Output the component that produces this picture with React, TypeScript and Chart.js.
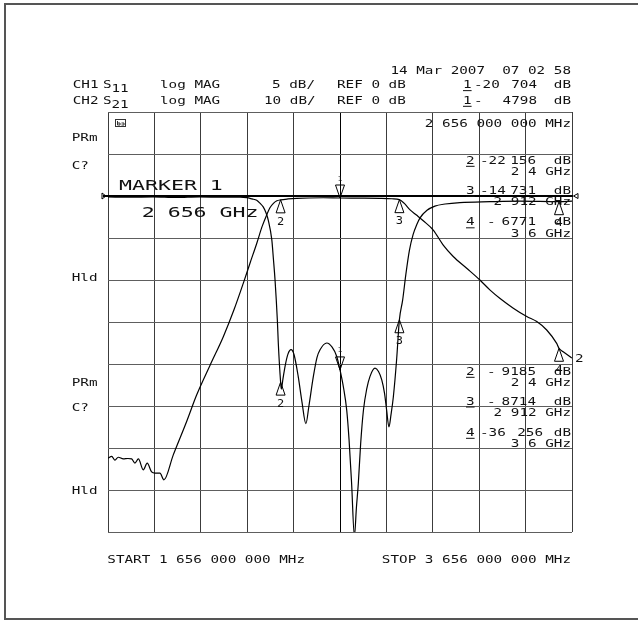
import React, { useEffect, useRef } from 'react';
import { Chart, registerables } from 'chart.js';

Chart.register(...registerables);

// ---- axes (GHz / dB) ----
const xTicks = [1.656, 1.856, 2.056, 2.256, 2.456, 2.656, 2.856, 3.056, 3.256, 3.456, 3.656];
const s11Ticks = [-40, -35, -30, -25, -20, -15, -10, -5, 0, 5, 10];
const s21Ticks = [-80, -70, -60, -50, -40, -30, -20, -10, 0, 10, 20];

// ---- CH1 S11 (log MAG, 5 dB/div) ----
const s11Freq = [
  1.656, 1.75, 1.85, 1.95, 2.05, 2.15, 2.225, 2.254, 2.277, 2.297, 2.311, 2.325, 2.337, 2.347,
  2.362, 2.369, 2.376, 2.386, 2.39, 2.4, 2.403, 2.41, 2.419, 2.432, 2.445, 2.458, 2.476, 2.492,
  2.509, 2.522, 2.541, 2.557, 2.57, 2.599, 2.622, 2.642, 2.656, 2.671, 2.685, 2.695, 2.706, 2.718,
  2.727, 2.735, 2.745, 2.757, 2.771, 2.785, 2.807, 2.822, 2.836, 2.848, 2.857, 2.867, 2.876, 2.886,
  2.9, 2.912, 2.926, 2.94, 2.955, 2.971, 2.987, 3.001, 3.031, 3.065, 3.109, 3.173, 3.303, 3.432,
  3.6, 3.656,
];
const s11Db = [
  -0.12, -0.15, -0.1, -0.18, -0.1, -0.15, -0.15, -0.2, -0.35, -0.5, -0.85, -1.3, -2.0, -2.9,
  -5.2, -7.5, -10, -14.8, -17.5, -22.156, -23.0, -21.8, -20.3, -18.8, -18.3, -18.9, -21.5, -24.5,
  -27.1, -25.0, -21.5, -19.2, -18.3, -17.5, -18.0, -19.1, -20.704, -22.8, -25.5, -29, -34.2, -40.5,
  -37, -34.2, -29.5, -25.5, -23.0, -21.5, -20.5, -20.9, -21.9, -23.5, -25.5, -27.5, -26.0, -23.9,
  -19.5, -14.731, -12.4, -9.3, -6.5, -4.6, -3.4, -2.6, -1.7, -1.2, -0.95, -0.78, -0.68, -0.62,
  -0.6771, -0.6,
];

// ---- CH2 S21 (log MAG, 10 dB/div) ----
const s21Freq = [
  1.656, 1.672, 1.686, 1.7, 1.722, 1.742, 1.758, 1.772, 1.787, 1.808, 1.825, 1.844, 1.859, 1.88,
  1.897, 1.937, 1.995, 2.038, 2.096, 2.153, 2.199, 2.239, 2.268, 2.297, 2.32, 2.34, 2.354, 2.369,
  2.384, 2.4, 2.432, 2.469, 2.584, 2.656, 2.742, 2.828, 2.88, 2.912, 2.932, 2.958, 2.987, 3.015,
  3.058, 3.101, 3.144, 3.202, 3.259, 3.303, 3.346, 3.403, 3.461, 3.504, 3.547, 3.59, 3.6, 3.618,
  3.656,
];
const s21Db = [
  -62.4, -62.0, -62.9, -62.2, -62.6, -62.5, -62.6, -63.6, -62.6, -65.2, -63.6, -65.7, -66.0, -66.0,
  -67.6, -61.7, -53.7, -47.4, -40.3, -33.5, -27.1, -20.8, -16.0, -11.3, -7.3, -4.5, -2.8, -1.74,
  -1.15, -0.9185, -0.7, -0.55, -0.42, -0.4798, -0.5, -0.55, -0.65, -0.8714, -1.7, -3.3, -4.6, -5.9,
  -8.1, -11.7, -14.4, -17.2, -20.0, -22.4, -24.4, -26.7, -28.7, -29.9, -31.9, -35.1, -36.256, -37.1,
  -38.6,
];

// ---- markers ----
const markerIds = ['1', '2', '3', '4'];
const markerFreq = [2.656, 2.4, 2.912, 3.6];
const markerS11 = [-20.704, -22.156, -14.731, -0.6771];
const markerS21 = [-0.4798, -0.9185, -0.8714, -36.256];

// ---- annotation text ----
const dateText = '14 Mar 2007  07 02 58';
const ch1Text = ['CH1', 'S', '11', 'log MAG', '5 dB/', 'REF 0 dB'];
const ch2Text = ['CH2', 'S', '21', 'log MAG', '10 dB/', 'REF 0 dB'];
const ch1Readout = ['-20', '704'];
const ch2Readout = ['-', '4798'];
const stimText = '2 656 000 000 MHz';
const upperReadout = [
  ['2', '-22', '156', '2 4 GHz'],
  ['3', '-14', '731', '2 912 GHz'],
  ['4', '-', '6771', '3 6 GHz'],
];
const lowerReadout = [
  ['2', '-', '9185', '2 4 GHz'],
  ['3', '-', '8714', '2 912 GHz'],
  ['4', '-36', '256', '3 6 GHz'],
];
const sideLabels = ['PRm', 'C?', 'Hld', 'PRm', 'C?', 'Hld'];
const markerTitle = ['MARKER 1', '2 656 GHz'];
const startText = 'START 1 656 000 000 MHz';
const stopText = 'STOP 3 656 000 000 MHz';

const FONT = '"DejaVu Sans Mono", "Liberation Mono", monospace';
const INK = '#111';

function txt(
  ctx: CanvasRenderingContext2D,
  s: string,
  x: number,
  yc: number,
  size: number,
  sx: number,
  align: 'left' | 'right' | 'center' = 'left',
  underline = false
) {
  ctx.save();
  ctx.font = `${size}px ${FONT}`;
  ctx.textAlign = 'left';
  ctx.textBaseline = 'alphabetic';
  const w = ctx.measureText(s).width * sx;
  const x0 = align === 'right' ? x - w : align === 'center' ? x - w / 2 : x;
  const base = yc + 0.3645 * size;
  ctx.fillStyle = INK;
  ctx.translate(x0, base);
  ctx.scale(sx, 1);
  ctx.fillText(s, 0, 0);
  ctx.restore();
  if (underline) {
    ctx.save();
    ctx.strokeStyle = INK;
    ctx.lineWidth = 1;
    ctx.beginPath();
    ctx.moveTo(x0, base + 2.5);
    ctx.lineTo(x0 + w, base + 2.5);
    ctx.stroke();
    ctx.restore();
  }
}

const S = 10.5; // small font size
const SX = 1.36;

const overlay = {
  id: 'overlay',
  beforeDraw(chart: any) {
    const ctx = chart.ctx as CanvasRenderingContext2D;
    ctx.save();
    ctx.strokeStyle = '#555';
    ctx.lineWidth = 2;
    ctx.beginPath();
    ctx.moveTo(640, 4);
    ctx.lineTo(5, 4);
    ctx.lineTo(5, 619);
    ctx.lineTo(640, 619);
    ctx.stroke();
    ctx.restore();
  },
  afterDatasetsDraw(chart: any) {
    const ctx = chart.ctx as CanvasRenderingContext2D;
    const xs = chart.scales.x;
    const ys = chart.scales.y;
    const y2 = chart.scales.y2;
    const area = chart.chartArea;

    // reference line (0 dB for both channels)
    const yRef = ys.getPixelForValue(0);
    ctx.save();
    ctx.strokeStyle = '#000';
    ctx.lineWidth = 2;
    ctx.beginPath();
    ctx.moveTo(area.left - 5, yRef);
    ctx.lineTo(area.right + 1, yRef);
    ctx.stroke();
    ctx.lineWidth = 1;
    ctx.beginPath();
    ctx.moveTo(area.left - 6, yRef - 3);
    ctx.lineTo(area.left - 2, yRef);
    ctx.lineTo(area.left - 6, yRef + 3);
    ctx.closePath();
    ctx.stroke();
    ctx.beginPath();
    ctx.moveTo(area.right + 6, yRef - 2.5);
    ctx.lineTo(area.right + 1.5, yRef);
    ctx.lineTo(area.right + 6, yRef + 2.5);
    ctx.closePath();
    ctx.stroke();
    ctx.restore();

    // markers
    const drawMarker = (id: string, px: number, py: number) => {
      ctx.save();
      ctx.strokeStyle = '#000';
      ctx.lineWidth = 1;
      ctx.beginPath();
      if (id === '1') {
        ctx.moveTo(px, py);
        ctx.lineTo(px - 4.5, py - 13);
        ctx.lineTo(px + 4.5, py - 13);
        ctx.closePath();
        ctx.stroke();
        ctx.restore();
        txt(ctx, id, px, py - 20, 7, 1.2, 'center');
      } else {
        ctx.moveTo(px, py);
        ctx.lineTo(px - 4.5, py + 13);
        ctx.lineTo(px + 4.5, py + 13);
        ctx.closePath();
        ctx.stroke();
        ctx.restore();
        txt(ctx, id, px, py + 21, 10, 1.2, 'center');
      }
    };
    markerIds.forEach((id, i) => {
      const px = xs.getPixelForValue(markerFreq[i]);
      drawMarker(id, px, ys.getPixelForValue(markerS11[i]));
      drawMarker(id, px, y2.getPixelForValue(markerS21[i]));
    });

    // channel 2 trace end label
    const lastF = s21Freq[s21Freq.length - 1];
    const lastV = s21Db[s21Db.length - 1];
    txt(ctx, '2', xs.getPixelForValue(lastF) + 3, y2.getPixelForValue(lastV), S, SX);

    // small annotation box glyph
    ctx.save();
    ctx.strokeStyle = '#333';
    ctx.lineWidth = 1;
    ctx.strokeRect(area.left + 7.5, area.top + 7.5, 10, 7);
    ctx.beginPath();
    ctx.moveTo(area.left + 9.5, area.top + 9);
    ctx.lineTo(area.left + 9.5, area.top + 13);
    ctx.lineTo(area.left + 12, area.top + 13);
    ctx.lineTo(area.left + 12, area.top + 11);
    ctx.lineTo(area.left + 9.5, area.top + 11);
    ctx.moveTo(area.left + 13.5, area.top + 11);
    ctx.lineTo(area.left + 16, area.top + 11);
    ctx.lineTo(area.left + 16, area.top + 13);
    ctx.lineTo(area.left + 13.5, area.top + 13);
    ctx.stroke();
    ctx.restore();
  },
  afterDraw(chart: any) {
    const ctx = chart.ctx as CanvasRenderingContext2D;
    // header
    txt(ctx, dateText, 571, 70.5, S, SX, 'right');
    const rows: [string[], string[], number][] = [
      [ch1Text, ch1Readout, 84.3],
      [ch2Text, ch2Readout, 100],
    ];
    rows.forEach(([t, r, yc], i) => {
      txt(ctx, t[0], 72.7, yc, S, SX);
      txt(ctx, t[1], 103, yc, S, SX);
      txt(ctx, t[2], 111.5, yc + 4, S, SX);
      txt(ctx, t[3], 160, yc, S, SX);
      txt(ctx, t[4], i === 0 ? 272 : 264, yc, S, SX);
      txt(ctx, t[5], 337, yc, S, SX);
      txt(ctx, '1', 463, yc, S, SX, 'left', true);
      txt(ctx, r[0], 474, yc, S, SX);
      txt(ctx, r[1], 537, yc, S, SX, 'right');
      txt(ctx, 'dB', 571, yc, S, SX, 'right');
    });

    // marker readouts
    txt(ctx, stimText, 571, 123, S, SX, 'right');
    const drawGroup = (g: string[][], ys: number[]) => {
      g.forEach((r, i) => {
        const yc = ys[i];
        txt(ctx, r[0], 466, yc, S, SX, 'left', true);
        txt(ctx, r[1], r[1] === '-' ? 487 : 480, yc, S, SX);
        txt(ctx, r[2], r[1] === '-36' ? 543 : 536, yc, S, SX, 'right');
        txt(ctx, 'dB', 571, yc, S, SX, 'right');
        txt(ctx, r[3], 571, yc + 11.3, S, SX, 'right');
      });
    };
    drawGroup(upperReadout, [160, 190, 221.5]);
    drawGroup(lowerReadout, [371, 400.7, 432]);

    // side softkey labels
    const sideY = [137, 165, 277, 382, 407, 490];
    sideLabels.forEach((s, i) => txt(ctx, s, 71.7, sideY[i], S, SX));

    // marker title
    txt(ctx, markerTitle[0], 119, 185, 14, 1.54);
    txt(ctx, markerTitle[1], 141.7, 212, 14, 1.54);

    // stimulus
    txt(ctx, startText, 107.3, 559, S, SX);
    txt(ctx, stopText, 571, 559, S, SX, 'right');
  },
};

export default function App() {
  const ref = useRef<HTMLCanvasElement>(null);
  useEffect(() => {
    const chart = new Chart(ref.current as HTMLCanvasElement, {
      type: 'line',
      data: {
        datasets: [
          {
            label: 'S11',
            data: s11Freq.map((f, i) => ({ x: f, y: s11Db[i] })),
            yAxisID: 'y',
            borderColor: '#000',
            borderWidth: 1.2,
            pointRadius: 0,
            fill: false,
            cubicInterpolationMode: 'monotone',
          },
          {
            label: 'S21',
            data: s21Freq.map((f, i) => ({ x: f, y: s21Db[i] })),
            yAxisID: 'y2',
            borderColor: '#000',
            borderWidth: 1.2,
            pointRadius: 0,
            fill: false,
            cubicInterpolationMode: 'monotone',
          },
        ],
      },
      options: {
        animation: false,
        responsive: false,
        maintainAspectRatio: false,
        events: [],
        layout: { padding: { left: 108, top: 112, right: 66, bottom: 90 } },
        plugins: { legend: { display: false }, tooltip: { enabled: false }, title: { display: false } },
        scales: {
          x: {
            type: 'linear',
            min: xTicks[0],
            max: xTicks[xTicks.length - 1],
            afterBuildTicks: (a: any) => {
              a.ticks = xTicks.map((v) => ({ value: v }));
            },
            afterFit: (s: any) => {
              s.height = 0;
            },
            ticks: { display: false },
            grid: {
              drawTicks: false,
              color: (c: any) => (c.index === 5 ? '#000' : '#3c3c3c'),
              lineWidth: 1,
            },
            border: { display: false },
          },
          y: {
            type: 'linear',
            position: 'left',
            min: s11Ticks[0],
            max: s11Ticks[s11Ticks.length - 1],
            afterBuildTicks: (a: any) => {
              a.ticks = s11Ticks.map((v) => ({ value: v }));
            },
            afterFit: (s: any) => {
              s.width = 0;
            },
            ticks: { display: false },
            grid: { drawTicks: false, color: '#5e5e5e', lineWidth: 1 },
            border: { display: false },
          },
          y2: {
            type: 'linear',
            position: 'right',
            display: false,
            min: s21Ticks[0],
            max: s21Ticks[s21Ticks.length - 1],
            afterBuildTicks: (a: any) => {
              a.ticks = s21Ticks.map((v) => ({ value: v }));
            },
          },
        },
      },
      plugins: [overlay],
    } as any);
    return () => chart.destroy();
  }, []);
  return (
    <div style={{ position: 'absolute', left: 0, top: 0, width: 638, height: 622, background: '#fff' }}>
      <canvas ref={ref} width={638} height={622} style={{ display: 'block', width: 638, height: 622 }} />
    </div>
  );
}
